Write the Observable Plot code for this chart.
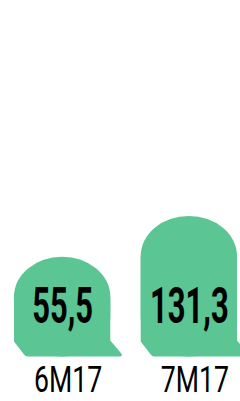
<!DOCTYPE html>
<html><head><meta charset="utf-8">
<script src="https://cdn.jsdelivr.net/npm/d3@7"></script>
<script src="https://cdn.jsdelivr.net/npm/@observablehq/plot@0.6"></script>
<style>body{margin:0;background:#fff} svg{overflow:visible}</style>
</head><body><div id="chart"></div>
<script>
const periods = ["6M17", "7M17"];
const values = [55.5, 131.3];
const valueLabels = ["55,5", "131,3"];
const yDomain = [-130.4, 533.5];

const data = periods.map((p, i) => ({period: p, value: values[i], label: valueLabels[i]}));
const green = "#5BC594";

// lower body + sheared foot of each tombstone, drawn through Plot's scales
const foot = (index, scales, channels, dims) => {
  const g = d3.create("svg:g").attr("aria-label", "foot").attr("fill", green);
  const x = scales.x, y = scales.y;
  const bw = x.bandwidth();
  const yb = dims.height - dims.marginBottom;
  const shear = 12, footH = 15, ry = 40;
  for (const d of data) {
    const x0 = x(d.period), x1 = x0 + bw, yt = y(d.value) + ry;
    g.append("path").attr("d",
      `M${x0},${yb - footH} L${x0},${yt} L${x1},${yt} L${x1},${yb - footH - 1} ` +
      `L${x1 + shear - 1},${yb - 3} Q${x1 + shear + 1},${yb} ${x1 + shear - 3},${yb} ` +
      `L${x0 + shear + 2},${yb} Q${x0 + shear - 1},${yb} ${x0 + shear - 2},${yb - 2} Z`);
  }
  return g.node();
};

const chart = Plot.plot({
  width: 240,
  height: 401,
  marginTop: 0,
  marginBottom: 44.5,
  marginLeft: 14,
  marginRight: 3,
  x: {domain: periods, paddingInner: 0.24, paddingOuter: 0, round: false, axis: null},
  y: {domain: yDomain, axis: null},
  marks: [
    Plot.barY(data, {x: "period", y1: yDomain[0], y2: "value", fill: green, rx: 48, ry: 40}),
    foot,
    Plot.text(data, {x: "period", text: "label", frameAnchor: "bottom", lineAnchor: "bottom", dy: -34.5,
      fontFamily: "Roboto", fontWeight: 700, fontSize: 50, fill: "#000"}),
    Plot.text(data, {x: "period", text: "period", frameAnchor: "bottom", lineAnchor: "bottom", dy: 35.3, dx: 5.5,
      fontFamily: "Roboto", fontWeight: 400, fontSize: 37, fill: "#000"})
  ]
});
document.getElementById("chart").appendChild(chart);

// condense the glyphs horizontally (about their own centre) to mimic the condensed typeface
d3.select(chart).selectAll("text").each(function () {
  const t = this.textContent;
  const k = valueLabels.includes(t) ? 0.62 : periods.includes(t) ? 0.72 : 1;
  if (k === 1) return;
  const b = this.getBBox();
  const cx = b.x + b.width / 2;
  const prev = this.getAttribute("transform") || "";
  this.setAttribute("transform", `${prev} translate(${cx},0) scale(${k},1) translate(${-cx},0)`.trim());
});
</script>
</body></html>
